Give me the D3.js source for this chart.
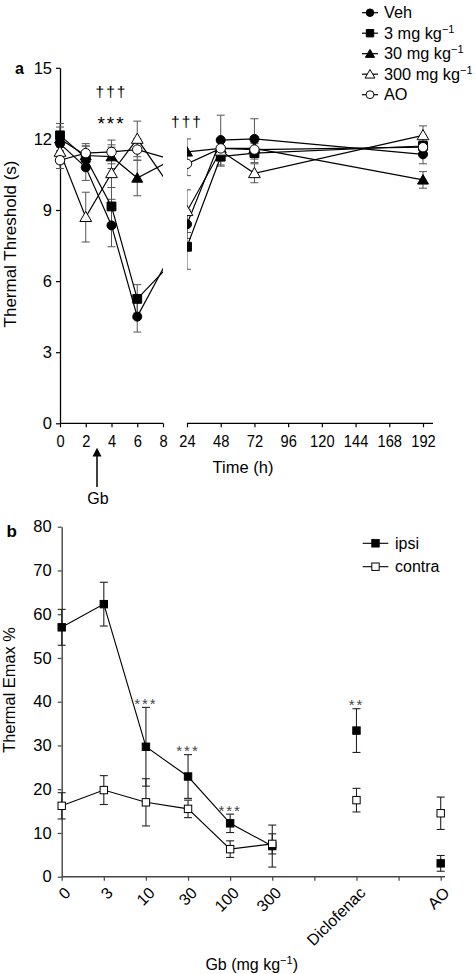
<!DOCTYPE html>
<html><head><meta charset="utf-8">
<script src="https://cdn.jsdelivr.net/npm/d3@7"></script>
<style>body{margin:0;background:#fff}svg{display:block}text{font-family:"Liberation Sans",Arial,sans-serif}</style>
</head><body>
<svg id="c" width="476" height="974"></svg>
<script>
// ---- Panel a data ----
const timesA = [0, 2, 4, 6, 24, 48, 72, 192];
const vehVals   = [11.8, 10.8, 8.35, 4.5, 8.4, 11.95, 12.0, 11.35];
const vehErr    = [0.45, 0.55, 0.9, 0.65, 0.6, 1.05, 0.85, 0.4];
const mg3Vals   = [12.15, 11.2, 9.15, 5.25, 7.45, 11.25, 11.4, 11.7];
const mg3Err    = [0.5, 0.5, 0.8, 0.6, 0.95, 0.4, 0.4, 0.4];
const mg30Vals  = [12.0, 11.3, 11.25, 10.35, 11.45, 11.6, 11.6, 10.27];
const mg30Err   = [0.5, 0.4, 0.5, 0.75, 0.55, 0.3, 0.3, 0.35];
const mg300Vals = [11.45, 8.7, 10.55, 12.0, 8.95, 11.5, 10.55, 12.15];
const mg300Err  = [0.5, 1.05, 1.1, 0.75, 0.9, 0.35, 0.4, 0.4];
const aoVals    = [11.1, 11.4, 11.45, 11.55, 10.95, 11.6, 11.55, 11.65];
const aoErr     = [0.35, 0.4, 0.5, 0.45, 0.5, 0.3, 0.3, 0.3];
const seriesNamesA = ["Veh", "3 mg kg", "30 mg kg", "300 mg kg", "AO"];
const ticksA1 = [0, 2, 4, 6, 8];
const ticksA2 = [24, 48, 72, 96, 120, 144, 168, 192];
const yTicksA = [0, 3, 6, 9, 12, 15];

// ---- Panel b data ----
const catsB = ["0", "3", "10", "30", "100", "300", "", "Diclofenac", "", "AO"];
const ipsiVals   = [57.0, 62.3, 29.7, 22.9, 12.2, 7.0, null, 33.4, null, 3.05];
const ipsiErr    = [4.1, 5.0, 9.0, 5.0, 2.1, 4.8, null, 5.0, null, 1.8];
const contraVals = [16.2, 19.8, 17.0, 15.5, 6.3, 7.5, null, 17.5, null, 14.5];
const contraErr  = [3.0, 3.3, 5.4, 2.0, 1.9, 2.3, null, 2.7, null, 3.7];
const yTicksB = [0, 10, 20, 30, 40, 50, 60, 70, 80];
const sigB = [{i: 2, t: "***"}, {i: 3, t: "***"}, {i: 4, t: "***"}, {i: 7, t: "**"}];

const svg = d3.select("#c");
const FS = 16.3;

// ================= Panel a =================
const xA = d3.scaleLinear().domain([0, 8, 24, 192]).range([60, 163, 187, 423]);
const yA = d3.scaleLinear().domain([0, 15]).range([423.3, 67.8]);
const gA = svg.append("g");

const defs = svg.append("defs");
const cp = defs.append("clipPath").attr("id", "clipA");
cp.append("rect").attr("x", 0).attr("y", 0).attr("width", 163).attr("height", 500);
cp.append("rect").attr("x", 187).attr("y", 0).attr("width", 300).attr("height", 500);

// y axis
const yAxA = gA.append("g").attr("transform", "translate(60,0)")
  .call(d3.axisLeft(yA).tickValues(yTicksA).tickSize(4).tickSizeOuter(0).tickPadding(4));
yAxA.select(".domain").attr("stroke", "#000").attr("stroke-width", 1.3);
yAxA.selectAll(".tick line").attr("stroke-width", 1.2);
yAxA.selectAll("text").attr("font-size", 16.5).attr("font-family", "Liberation Sans");

// x axis (broken)
const xAxA = gA.append("g").attr("transform", "translate(0,423.3)")
  .call(d3.axisBottom(xA).tickValues(ticksA1.concat(ticksA2)).tickSize(4).tickSizeOuter(0).tickPadding(8));
xAxA.select(".domain").remove();
xAxA.selectAll(".tick line").attr("stroke-width", 1.2);
xAxA.selectAll("text").attr("font-size", 16.3).attr("font-family", "Liberation Sans").attr("transform", "scale(0.9,1)");
gA.append("line").attr("x1", xA(0)).attr("x2", xA(8)).attr("y1", 423.3).attr("y2", 423.3).attr("stroke", "#000").attr("stroke-width", 1.3);
gA.append("line").attr("x1", xA(24)).attr("x2", 433).attr("y1", 423.3).attr("y2", 423.3).attr("stroke", "#000").attr("stroke-width", 1.3);

const seriesA = [
  {vals: vehVals, err: vehErr, sym: d3.symbolCircle, size: 64, fill: "#000"},
  {vals: mg3Vals, err: mg3Err, sym: d3.symbolSquare, size: 78, fill: "#000"},
  {vals: mg30Vals, err: mg30Err, sym: d3.symbolTriangle, size: 52, fill: "#000"},
  {vals: mg300Vals, err: mg300Err, sym: d3.symbolTriangle, size: 60, fill: "#fff"},
  {vals: aoVals, err: aoErr, sym: d3.symbolCircle, size: 70, fill: "#fff"}
];

const plotA = gA.append("g").attr("clip-path", "url(#clipA)");
seriesA.forEach(s => {
  s.vals.forEach((v, i) => {
    const x = xA(timesA[i]), y1 = yA(v + s.err[i]), y2 = yA(v - s.err[i]);
    const g = plotA.append("g").attr("stroke", "#555").attr("stroke-width", 1);
    g.append("line").attr("x1", x).attr("x2", x).attr("y1", y1).attr("y2", y2);
    g.append("line").attr("x1", x - 4).attr("x2", x + 4).attr("y1", y1).attr("y2", y1);
    g.append("line").attr("x1", x - 4).attr("x2", x + 4).attr("y1", y2).attr("y2", y2);
  });
});
const lineA = d3.line().x((d, i) => xA(timesA[i])).y(d => yA(d));
seriesA.forEach(s => {
  plotA.append("path").attr("d", lineA(s.vals)).attr("fill", "none").attr("stroke", "#000").attr("stroke-width", 1.2);
});
seriesA.forEach(s => {
  s.vals.forEach((v, i) => {
    plotA.append("path").attr("d", d3.symbol(s.sym, s.size)())
      .attr("transform", `translate(${xA(timesA[i])},${yA(v) + (s.sym === d3.symbolTriangle ? 1 : 0)})`)
      .attr("fill", s.fill).attr("stroke", "#000").attr("stroke-width", 1);
  });
});

// legend a
const legA = svg.append("g");
seriesA.forEach((s, k) => {
  const cy = 12.7 + k * 20.5;
  legA.append("line").attr("x1", 362).attr("x2", 378).attr("y1", cy).attr("y2", cy).attr("stroke", "#000").attr("stroke-width", 1.2);
  legA.append("path").attr("d", d3.symbol(s.sym, s.size * 0.7)()).attr("transform", `translate(370,${cy + (s.sym === d3.symbolTriangle ? 1 : 0)})`)
    .attr("fill", s.fill).attr("stroke", "#000").attr("stroke-width", 1);
  const t = legA.append("text").attr("x", 384).attr("y", cy + 5.7).attr("font-size", FS).text(seriesNamesA[k]);
  if (k >= 1 && k <= 3) t.append("tspan").attr("dy", -6).attr("font-size", 11).text("−1");
});

// labels a
svg.append("text").attr("x", 15).attr("y", 74).attr("font-size", 16).attr("font-weight", "bold").text("a");
svg.append("text").attr("transform", "translate(15.5,244) rotate(-90)").attr("text-anchor", "middle").attr("font-size", 17).text("Thermal Threshold (s)");
svg.append("text").attr("x", 243).attr("y", 473).attr("text-anchor", "middle").attr("font-size", 16.5).text("Time (h)");
svg.append("text").attr("x", xA(4)).attr("y", 97).attr("text-anchor", "middle").attr("font-size", 15.5).attr("letter-spacing", 2).text("†††");
svg.append("text").attr("x", xA(4)).attr("y", 130).attr("text-anchor", "middle").attr("font-size", 19).attr("letter-spacing", 2).text("***");
svg.append("text").attr("x", xA(24)).attr("y", 127).attr("text-anchor", "middle").attr("font-size", 15.5).attr("letter-spacing", 2).text("†††");
// Gb arrow
const ax = 97;
svg.append("line").attr("x1", ax).attr("x2", ax).attr("y1", 455).attr("y2", 487).attr("stroke", "#000").attr("stroke-width", 1.5);
svg.append("path").attr("d", `M${ax},447.7 L${ax + 4.5},456.5 L${ax - 4.5},456.5 Z`).attr("fill", "#000");
svg.append("text").attr("x", 98).attr("y", 504).attr("text-anchor", "middle").attr("font-size", 16).text("Gb");

// ================= Panel b =================
const xB = d3.scaleLinear().domain([0, 9]).range([61.7, 440.7]);
const yB = d3.scaleLinear().domain([0, 80]).range([876.7, 526.7]);
const gB = svg.append("g");

const yAxB = gB.append("g").attr("transform", "translate(61.7,0)")
  .call(d3.axisLeft(yB).tickValues(yTicksB).tickSize(4).tickSizeOuter(0).tickPadding(6));
yAxB.select(".domain").attr("stroke", "#444").attr("stroke-width", 1.4);
yAxB.selectAll(".tick line").attr("stroke", "#444").attr("stroke-width", 1.2);
yAxB.selectAll("text").attr("font-size", 16.5).attr("font-family", "Liberation Sans");

const xAxB = gB.append("g").attr("transform", "translate(0,876.7)")
  .call(d3.axisBottom(xB).tickValues(d3.range(catsB.length)).tickSize(4).tickSizeOuter(0).tickFormat(""));
xAxB.select(".domain").attr("d", `M${xB(0)},0H445`).attr("stroke", "#444").attr("stroke-width", 1.4);
xAxB.selectAll(".tick line").attr("stroke", "#444").attr("stroke-width", 1.2);
catsB.forEach((c, i) => {
  if (!c) return;
  gB.append("text").attr("transform", `translate(${xB(i) + 6},890) rotate(-45)`)
    .attr("text-anchor", "end").attr("dy", "0.35em").attr("font-size", 16).text(c);
});

const seriesB = [
  {vals: ipsiVals, err: ipsiErr, fill: "#000", name: "ipsi"},
  {vals: contraVals, err: contraErr, fill: "#fff", name: "contra"}
];
seriesB.forEach(s => {
  s.vals.forEach((v, i) => {
    if (v === null) return;
    const x = xB(i), y1 = yB(v + s.err[i]), y2 = yB(Math.max(0, v - s.err[i]));
    const g = gB.append("g").attr("stroke", "#222").attr("stroke-width", 1.1);
    g.append("line").attr("x1", x).attr("x2", x).attr("y1", y1).attr("y2", y2);
    g.append("line").attr("x1", x - 4).attr("x2", x + 4).attr("y1", y1).attr("y2", y1);
    g.append("line").attr("x1", x - 4).attr("x2", x + 4).attr("y1", y2).attr("y2", y2);
  });
});
const lineB = d3.line().x(d => xB(d.i)).y(d => yB(d.v));
seriesB.forEach(s => {
  const pts = s.vals.slice(0, 6).map((v, i) => ({i, v}));
  gB.append("path").attr("d", lineB(pts)).attr("fill", "none").attr("stroke", "#000").attr("stroke-width", 1.1);
});
seriesB.forEach(s => {
  s.vals.forEach((v, i) => {
    if (v === null) return;
    gB.append("rect").attr("x", xB(i) - 3.7).attr("y", yB(v) - 3.7).attr("width", 7.4).attr("height", 7.4)
      .attr("fill", s.fill).attr("stroke", "#000").attr("stroke-width", 1);
  });
});
sigB.forEach(d => {
  const top = yB(ipsiVals[d.i] + ipsiErr[d.i]);
  gB.append("text").attr("x", xB(d.i)).attr("y", top + 1.5).attr("text-anchor", "middle")
    .attr("font-size", 15).attr("fill", "#444").attr("letter-spacing", 2).text(d.t);
});

// legend b
seriesB.forEach((s, k) => {
  const cy = 543.3 + k * 23.4;
  gB.append("line").attr("x1", 362.7).attr("x2", 388.3).attr("y1", cy).attr("y2", cy).attr("stroke", "#000").attr("stroke-width", 1.1);
  gB.append("rect").attr("x", 375.5 - 3.7).attr("y", cy - 3.7).attr("width", 7.4).attr("height", 7.4)
    .attr("fill", s.fill).attr("stroke", "#000").attr("stroke-width", 1);
  gB.append("text").attr("x", 395).attr("y", cy + 5.6).attr("font-size", 16).text(s.name);
});

svg.append("text").attr("x", 6.5).attr("y", 536.7).attr("font-size", 17).attr("font-weight", "bold").text("b");
svg.append("text").attr("transform", "translate(15,690) rotate(-90)").attr("text-anchor", "middle").attr("font-size", 16.4).text("Thermal Emax %");
const xt = svg.append("text").attr("x", 251.7).attr("y", 970).attr("text-anchor", "middle").attr("font-size", 16).text("Gb (mg kg");
xt.append("tspan").attr("dy", -6).attr("font-size", 11).text("−1");
xt.append("tspan").attr("dy", 6).text(")");
</script>
</body></html>
